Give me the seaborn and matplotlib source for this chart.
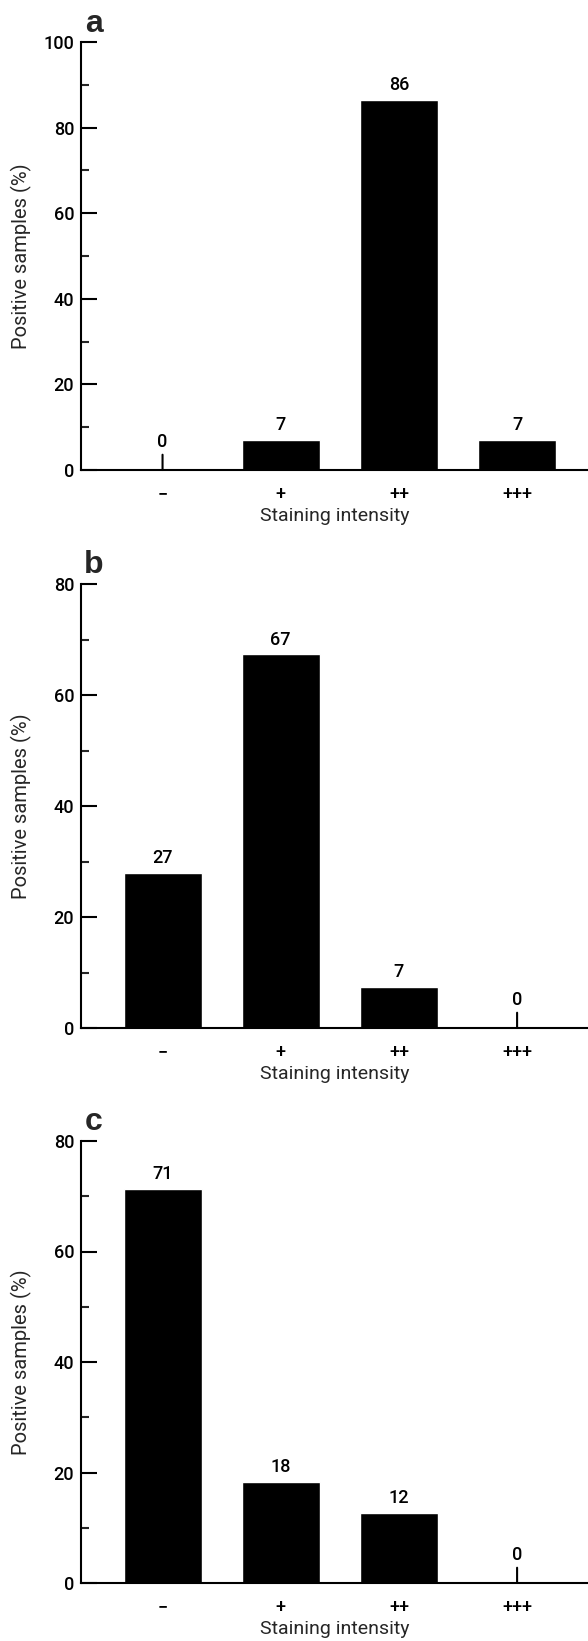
import numpy as np
import pandas as pd
import seaborn as sns
import matplotlib.pyplot as plt
from matplotlib.ticker import MultipleLocator

sns.set_theme(style='ticks')
plt.rcParams['font.family'] = ['Roboto', 'DejaVu Sans']
plt.rcParams['font.weight'] = 'medium'

categories = ['\u2212', '+', '++', '+++']
panel_letters = ['a', 'b', 'c']

heights_a = [0, 7, 86.5, 7]
heights_b = [28, 67.3, 7.4, 0]
heights_c = [71.4, 18.3, 12.7, 0]
labels_a = ['0', '7', '86', '7']
labels_b = ['27', '67', '7', '0']
labels_c = ['71', '18', '12', '0']
ymax = [100, 80, 80]

panels = [(heights_a, labels_a), (heights_b, labels_b), (heights_c, labels_c)]

W, H = 588, 1641
fig = plt.figure(figsize=(W / 100, H / 100), dpi=100)

# axes boxes in pixels: (top, bottom), letter baseline
boxes = [(42, 470), (584, 1028), (1141, 1583)]
letter_base = [32, 573, 1130]
left_px = 81

for i, ((vals, labs), (top, bot)) in enumerate(zip(panels, boxes)):
    ax = fig.add_axes([left_px / W, 1 - bot / H, (W - left_px) / W, (bot - top) / H])
    df = pd.DataFrame({'intensity': categories, 'pct': vals})
    sns.barplot(data=df, x='intensity', y='pct', color='black', width=0.66,
                saturation=1, ax=ax, order=categories)
    ax.set_xlim(-0.69, 3.6)
    ax.set_ylim(0, ymax[i])
    sns.despine(ax=ax)
    for sp in ['left', 'bottom']:
        ax.spines[sp].set_linewidth(1.5)
        ax.spines[sp].set_color('black')
    ax.yaxis.set_major_locator(MultipleLocator(20))
    ax.yaxis.set_minor_locator(MultipleLocator(10))
    ax.tick_params(axis='y', which='major', direction='in', length=11.5, width=1.5,
                   labelsize=13, pad=5, colors='black')
    ax.tick_params(axis='y', which='minor', direction='in', length=6, width=1.5)
    ax.tick_params(axis='x', length=0, labelsize=13, pad=11, colors='black')
    ax.set_xlabel('Staining intensity', fontsize=14)
    ax.set_ylabel('Positive samples (%)', fontsize=14.5)
    hpx = bot - top
    ax.xaxis.set_label_coords(0.5, -46 / hpx)
    ax.xaxis.label.set_va('center')
    ax.yaxis.set_label_coords((21 - left_px) / (W - left_px), 0.5)
    ax.yaxis.label.set_va('center')

    # zero values drawn as a short stub, numbers above each bar
    for x, (v, t) in enumerate(zip(vals, labs)):
        off = 4
        if v == 0:
            ax.annotate('', xy=(x, 0), xytext=(0, 11), textcoords='offset points',
                        arrowprops=dict(arrowstyle='-', lw=1.5, color='black',
                                        shrinkA=0, shrinkB=0))
            off = 14
        ax.annotate(t, xy=(x, v), xytext=(0, off), textcoords='offset points',
                    ha='center', va='bottom', fontsize=13, color='black')

    fig.text(94 / W, 1 - letter_base[i] / H, panel_letters[i], fontsize=23,
             fontweight='heavy', ha='center', va='baseline',
             family=['Liberation Sans', 'DejaVu Sans'])

fig.savefig('out.png', dpi=100)
